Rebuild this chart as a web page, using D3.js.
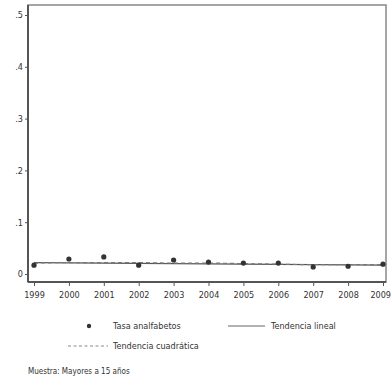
<!DOCTYPE html>
<html><head><meta charset="utf-8">
<script src="https://cdn.jsdelivr.net/npm/d3@7"></script>
<style>
body{margin:0;background:#fff;}
svg text{font-family:"Liberation Sans Narrow","DejaVu Sans Condensed","Liberation Sans",sans-serif;fill:#333;}
</style></head><body>
<svg id="c" width="392" height="379"></svg>
<script>
const years = [1999,2000,2001,2002,2003,2004,2005,2006,2007,2008,2009];
const tasa = [0.017,0.029,0.033,0.017,0.027,0.023,0.021,0.021,0.0135,0.015,0.019];
const linealYears = [1999,2009];
const lineal = [0.022,0.017];
const cuadratica = [0.021,0.022,0.022,0.022,0.021,0.021,0.020,0.019,0.018,0.018,0.018];
const yTicks = [0,0.1,0.2,0.3,0.4,0.5];
const yTickLabels = ["0",".1",".2",".3",".4",".5"];

const svg = d3.select("#c");
const pL=28, pR=386, pT=5, pB=282;
const x = d3.scaleLinear().domain([1999,2009]).range([34,383]);
const y = d3.scaleLinear().domain([0,0.5]).range([274,15]);

// plot frame
svg.append("rect").attr("x",pL).attr("y",pT).attr("width",pR-pL).attr("height",pB-pT)
  .attr("fill","none").attr("stroke","#888").attr("stroke-width",1.5);

// axes
const yAxis = d3.axisLeft(y).tickValues(yTicks).tickFormat((d,i)=>yTickLabels[i]).tickSize(3).tickPadding(2);
const gy = svg.append("g").attr("transform",`translate(${pL},0)`).call(yAxis);
gy.select(".domain").attr("d",`M0,${pT}V${pB}`).attr("stroke","#555").attr("stroke-width",2);
gy.selectAll(".tick line").attr("stroke","#555");
gy.selectAll(".tick text").attr("font-size",9).style("fill","#333");

const xAxis = d3.axisBottom(x).tickValues(years).tickFormat(d3.format("d")).tickSize(4).tickPadding(6);
const gx = svg.append("g").attr("transform",`translate(0,${pB})`).call(xAxis);
gx.select(".domain").attr("d",`M${pL},0H${pR}`).attr("stroke","#555").attr("stroke-width",2);
gx.selectAll(".tick line").attr("stroke","#555");
gx.selectAll(".tick text").attr("font-size",9).style("fill","#333");
gx.selectAll(".tick text").filter(d=>d===2009).attr("text-anchor","end").attr("dx",7.5);

// linear trend
svg.append("path").datum(linealYears.map((d,i)=>[d,lineal[i]]))
  .attr("d",d3.line().x(d=>x(d[0])).y(d=>y(d[1])))
  .attr("fill","none").attr("stroke","#555").attr("stroke-width",1.2);
// quadratic trend
svg.append("path").datum(years.map((d,i)=>[d,cuadratica[i]]))
  .attr("d",d3.line().curve(d3.curveMonotoneX).x(d=>x(d[0])).y(d=>y(d[1])))
  .attr("fill","none").attr("stroke","#777").attr("stroke-width",1.2).attr("stroke-dasharray","4,3");
// points
svg.selectAll("circle.pt").data(years).join("circle").attr("class","pt")
  .attr("cx",d=>x(d)).attr("cy",(d,i)=>y(tasa[i])).attr("r",2.6).attr("fill","#333");

// legend
const lg = svg.append("g");
lg.append("circle").attr("cx",89).attr("cy",326).attr("r",2.2).attr("fill","#333");
lg.append("text").attr("x",113).attr("y",329).attr("font-size",9).text("Tasa analfabetos");
lg.append("line").attr("x1",228).attr("x2",265).attr("y1",326).attr("y2",326).attr("stroke","#666").attr("stroke-width",1);
lg.append("text").attr("x",271).attr("y",329).attr("font-size",9).text("Tendencia lineal");
lg.append("line").attr("x1",68).attr("x2",108).attr("y1",346).attr("y2",346).attr("stroke","#888").attr("stroke-width",1).attr("stroke-dasharray","3,2.5");
lg.append("text").attr("x",113).attr("y",349).attr("font-size",9).text("Tendencia cuadrática");
svg.append("text").attr("x",28).attr("y",374).attr("font-size",8).text("Muestra: Mayores a 15 años");
</script>
</body></html>
